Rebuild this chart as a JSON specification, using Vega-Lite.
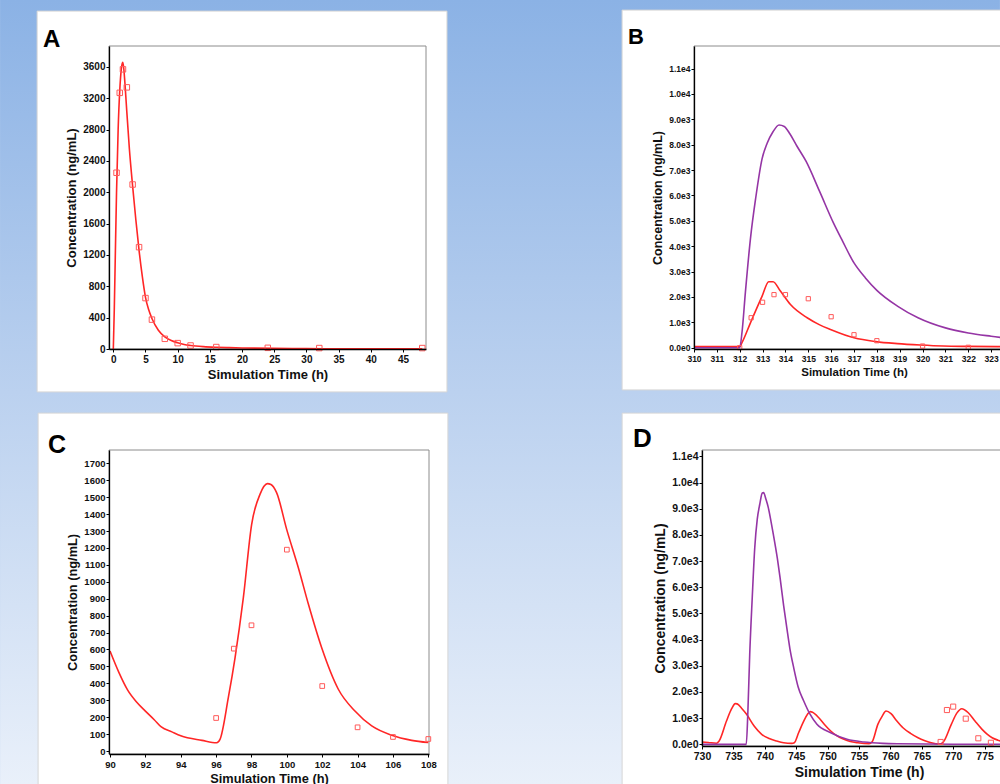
{
  "$schema": "https://vega.github.io/schema/vega-lite/v6.json",
  "padding": 0,
  "background": "#bcd2ef",
  "config": {
    "view": {"stroke": null},
    "font": "Liberation Sans",
    "axis": {"domainColor": "#000000", "domainWidth": 1.3, "tickColor": "#000000", "tickSize": 3, "tickWidth": 1, "labelFont": "Liberation Sans", "labelFontWeight": "bold", "labelColor": "#111111", "titleFont": "Liberation Sans", "titleFontWeight": "bold", "titleColor": "#111111", "grid": false, "labelFlush": false, "labelOverlap": false, "titlePadding": 4},
    "axisX": {"labelPadding": 2},
    "axisY": {"labelPadding": 1},
    "line": {"interpolate": "monotone"},
    "title": {"anchor": "start", "frame": "group", "offset": 0, "baseline": "alphabetic", "fontWeight": "bold", "color": "#000000", "font": "Liberation Sans"}
  },
  "datasets": {
    "a": [
      {"t":0,"c":0,"kind":"red"},{"t":0.15,"c":500,"kind":"red"},{"t":0.3,"c":1150,"kind":"red"},{"t":0.5,"c":2000,"kind":"red"},{"t":0.75,"c":2800,"kind":"red"},{"t":1.0,"c":3300,"kind":"red"},{"t":1.25,"c":3580,"kind":"red"},{"t":1.45,"c":3660,"kind":"red"},{"t":1.6,"c":3600,"kind":"red"},{"t":1.8,"c":3400,"kind":"red"},{"t":2.0,"c":3150,"kind":"red"},{"t":2.5,"c":2550,"kind":"red"},{"t":3.0,"c":2080,"kind":"red"},{"t":3.5,"c":1650,"kind":"red"},{"t":4.0,"c":1260,"kind":"red"},{"t":4.5,"c":930,"kind":"red"},{"t":5.0,"c":660,"kind":"red"},{"t":5.5,"c":500,"kind":"red"},{"t":6.0,"c":390,"kind":"red"},{"t":7.0,"c":240,"kind":"red"},{"t":8.0,"c":155,"kind":"red"},{"t":9.0,"c":108,"kind":"red"},{"t":10,"c":80,"kind":"red"},{"t":11,"c":58,"kind":"red"},{"t":12,"c":45,"kind":"red"},{"t":14,"c":30,"kind":"red"},{"t":16,"c":22,"kind":"red"},{"t":18,"c":17,"kind":"red"},{"t":20,"c":13,"kind":"red"},{"t":25,"c":8,"kind":"red"},{"t":30,"c":5,"kind":"red"},{"t":35,"c":3,"kind":"red"},{"t":40,"c":2,"kind":"red"},{"t":48,"c":1,"kind":"red"},
      {"t":0.5,"c":2250,"kind":"obs"},{"t":1,"c":3270,"kind":"obs"},{"t":1.5,"c":3570,"kind":"obs"},{"t":2.1,"c":3340,"kind":"obs"},{"t":3,"c":2100,"kind":"obs"},{"t":4,"c":1300,"kind":"obs"},{"t":5,"c":650,"kind":"obs"},{"t":6,"c":375,"kind":"obs"},{"t":8,"c":130,"kind":"obs"},{"t":10,"c":75,"kind":"obs"},{"t":12,"c":45,"kind":"obs"},{"t":16,"c":25,"kind":"obs"},{"t":24,"c":15,"kind":"obs"},{"t":32,"c":12,"kind":"obs"},{"t":48,"c":12,"kind":"obs"}
    ],
    "b": [
      {"t":310,"c":40,"kind":"red"},{"t":312.0,"c":40,"kind":"red"},{"t":312.1,"c":200,"kind":"red"},{"t":312.47,"c":980,"kind":"red"},{"t":312.98,"c":2030,"kind":"red"},{"t":313.27,"c":2600,"kind":"red"},{"t":313.46,"c":2600,"kind":"red"},{"t":313.78,"c":2230,"kind":"red"},{"t":314.22,"c":1700,"kind":"red"},{"t":314.95,"c":1180,"kind":"red"},{"t":315.5,"c":900,"kind":"red"},{"t":315.97,"c":720,"kind":"red"},{"t":317.0,"c":390,"kind":"red"},{"t":317.95,"c":240,"kind":"red"},{"t":318.9,"c":160,"kind":"red"},{"t":319.9,"c":105,"kind":"red"},{"t":320.9,"c":65,"kind":"red"},{"t":322,"c":50,"kind":"red"},{"t":323.4,"c":40,"kind":"red"},{"t":324,"c":38,"kind":"red"},
      {"t":310,"c":0,"kind":"purple"},{"t":312.0,"c":0,"kind":"purple"},{"t":312.1,"c":600,"kind":"purple"},{"t":312.25,"c":2200,"kind":"purple"},{"t":312.47,"c":4300,"kind":"purple"},{"t":312.7,"c":5900,"kind":"purple"},{"t":312.98,"c":7450,"kind":"purple"},{"t":313.2,"c":8060,"kind":"purple"},{"t":313.45,"c":8500,"kind":"purple"},{"t":313.72,"c":8780,"kind":"purple"},{"t":313.95,"c":8720,"kind":"purple"},{"t":314.2,"c":8420,"kind":"purple"},{"t":314.5,"c":7950,"kind":"purple"},{"t":314.9,"c":7350,"kind":"purple"},{"t":315.5,"c":6150,"kind":"purple"},{"t":316.1,"c":4920,"kind":"purple"},{"t":316.5,"c":4200,"kind":"purple"},{"t":317.0,"c":3340,"kind":"purple"},{"t":317.5,"c":2750,"kind":"purple"},{"t":318.0,"c":2260,"kind":"purple"},{"t":318.9,"c":1640,"kind":"purple"},{"t":319.8,"c":1180,"kind":"purple"},{"t":321.0,"c":780,"kind":"purple"},{"t":322.0,"c":580,"kind":"purple"},{"t":323.0,"c":450,"kind":"purple"},{"t":324.0,"c":340,"kind":"purple"},
      {"t":312,"c":0,"kind":"obs"},{"t":312.5,"c":1180,"kind":"obs"},{"t":313,"c":1790,"kind":"obs"},{"t":313.5,"c":2090,"kind":"obs"},{"t":314,"c":2090,"kind":"obs"},{"t":315,"c":1930,"kind":"obs"},{"t":316,"c":1220,"kind":"obs"},{"t":317,"c":510,"kind":"obs"},{"t":318,"c":275,"kind":"obs"},{"t":320,"c":65,"kind":"obs"},{"t":322,"c":15,"kind":"obs"}
    ],
    "c": [
      {"t":90,"c":591,"kind":"red"},{"t":90.5,"c":465,"kind":"red"},{"t":91,"c":360,"kind":"red"},{"t":91.5,"c":290,"kind":"red"},{"t":92,"c":236,"kind":"red"},{"t":92.5,"c":185,"kind":"red"},{"t":92.9,"c":142,"kind":"red"},{"t":93.5,"c":113,"kind":"red"},{"t":94,"c":90,"kind":"red"},{"t":95.2,"c":63,"kind":"red"},{"t":96.03,"c":49,"kind":"red"},{"t":96.22,"c":69,"kind":"red"},{"t":96.69,"c":315,"kind":"red"},{"t":97.07,"c":551,"kind":"red"},{"t":97.54,"c":906,"kind":"red"},{"t":98.01,"c":1340,"kind":"red"},{"t":98.48,"c":1517,"kind":"red"},{"t":98.9,"c":1580,"kind":"red"},{"t":99.1,"c":1575,"kind":"red"},{"t":99.42,"c":1527,"kind":"red"},{"t":99.99,"c":1310,"kind":"red"},{"t":100.65,"c":1083,"kind":"red"},{"t":101.22,"c":867,"kind":"red"},{"t":101.97,"c":610,"kind":"red"},{"t":102.91,"c":365,"kind":"red"},{"t":103.85,"c":236,"kind":"red"},{"t":104.8,"c":148,"kind":"red"},{"t":105.93,"c":93,"kind":"red"},{"t":107.06,"c":63,"kind":"red"},{"t":108,"c":50,"kind":"red"},
      {"t":96,"c":195,"kind":"obs"},{"t":97,"c":605,"kind":"obs"},{"t":98,"c":743,"kind":"obs"},{"t":100,"c":1190,"kind":"obs"},{"t":102,"c":384,"kind":"obs"},{"t":104,"c":140,"kind":"obs"},{"t":106,"c":83,"kind":"obs"},{"t":108,"c":71,"kind":"obs"}
    ],
    "d": [
      {"t":730,"c":90,"kind":"red"},{"t":731,"c":70,"kind":"red"},{"t":732.3,"c":40,"kind":"red"},{"t":732.7,"c":120,"kind":"red"},{"t":733.9,"c":890,"kind":"red"},{"t":734.7,"c":1350,"kind":"red"},{"t":735.3,"c":1555,"kind":"red"},{"t":735.6,"c":1545,"kind":"red"},{"t":736.3,"c":1380,"kind":"red"},{"t":737.1,"c":1146,"kind":"red"},{"t":738.3,"c":700,"kind":"red"},{"t":739.5,"c":382,"kind":"red"},{"t":740.7,"c":220,"kind":"red"},{"t":741.9,"c":126,"kind":"red"},{"t":743,"c":60,"kind":"red"},{"t":744.3,"c":35,"kind":"red"},{"t":744.7,"c":60,"kind":"red"},{"t":745.4,"c":450,"kind":"red"},{"t":746.2,"c":890,"kind":"red"},{"t":746.8,"c":1150,"kind":"red"},{"t":747.25,"c":1250,"kind":"red"},{"t":747.6,"c":1225,"kind":"red"},{"t":748.6,"c":1016,"kind":"red"},{"t":749.5,"c":760,"kind":"red"},{"t":750.5,"c":508,"kind":"red"},{"t":751.5,"c":320,"kind":"red"},{"t":752.6,"c":191,"kind":"red"},{"t":753.6,"c":110,"kind":"red"},{"t":754.8,"c":61,"kind":"red"},{"t":756.6,"c":25,"kind":"red"},{"t":757.1,"c":100,"kind":"red"},{"t":758.0,"c":764,"kind":"red"},{"t":758.7,"c":1080,"kind":"red"},{"t":759.3,"c":1272,"kind":"red"},{"t":760.1,"c":1170,"kind":"red"},{"t":761.0,"c":900,"kind":"red"},{"t":762.0,"c":634,"kind":"red"},{"t":763.2,"c":420,"kind":"red"},{"t":764.4,"c":252,"kind":"red"},{"t":765.5,"c":140,"kind":"red"},{"t":766.5,"c":61,"kind":"red"},{"t":767.9,"c":15,"kind":"red"},{"t":768.4,"c":80,"kind":"red"},{"t":769.7,"c":764,"kind":"red"},{"t":770.6,"c":1200,"kind":"red"},{"t":771.35,"c":1360,"kind":"red"},{"t":772.4,"c":1207,"kind":"red"},{"t":773.5,"c":880,"kind":"red"},{"t":774.6,"c":573,"kind":"red"},{"t":775.4,"c":390,"kind":"red"},{"t":776.2,"c":252,"kind":"red"},{"t":777.1,"c":160,"kind":"red"},{"t":778.05,"c":99,"kind":"red"},{"t":779,"c":60,"kind":"red"},{"t":780,"c":40,"kind":"red"},
      {"t":730,"c":0,"kind":"purple"},{"t":737.05,"c":0,"kind":"purple"},{"t":737.3,"c":1200,"kind":"purple"},{"t":737.6,"c":3440,"kind":"purple"},{"t":738.0,"c":5600,"kind":"purple"},{"t":738.4,"c":7510,"kind":"purple"},{"t":738.8,"c":8600,"kind":"purple"},{"t":739.2,"c":9170,"kind":"purple"},{"t":739.6,"c":9600,"kind":"purple"},{"t":739.8,"c":9614,"kind":"purple"},{"t":740.2,"c":9350,"kind":"purple"},{"t":740.56,"c":9040,"kind":"purple"},{"t":741.0,"c":8500,"kind":"purple"},{"t":741.36,"c":8020,"kind":"purple"},{"t":742.0,"c":7100,"kind":"purple"},{"t":742.43,"c":6366,"kind":"purple"},{"t":743.0,"c":5300,"kind":"purple"},{"t":743.5,"c":4455,"kind":"purple"},{"t":744.0,"c":3650,"kind":"purple"},{"t":744.6,"c":2927,"kind":"purple"},{"t":745.3,"c":2200,"kind":"purple"},{"t":746.2,"c":1655,"kind":"purple"},{"t":747.2,"c":1150,"kind":"purple"},{"t":748.3,"c":764,"kind":"purple"},{"t":750.5,"c":443,"kind":"purple"},{"t":753.1,"c":191,"kind":"purple"},{"t":755.8,"c":88,"kind":"purple"},{"t":758.8,"c":38,"kind":"purple"},{"t":761.2,"c":23,"kind":"purple"},{"t":770,"c":5,"kind":"purple"},{"t":780,"c":0,"kind":"purple"},
      {"t":768,"c":90,"kind":"obs"},{"t":769,"c":1310,"kind":"obs"},{"t":770,"c":1440,"kind":"obs"},{"t":772,"c":980,"kind":"obs"},{"t":774,"c":230,"kind":"obs"},{"t":776,"c":60,"kind":"obs"},{"t":778,"c":25,"kind":"obs"}
    ]
  },
  "columns": 2,
  "align": "none",
  "bounds": "full",
  "spacing": {"row": -372, "column": -379},
  "concat": [
    {
      "width": 317, "height": 303,
      "title": {"text": "A", "fontSize": 24, "dx": -66, "dy": 56},
      "data": {"name": "a"},
      "layer": [
        {
          "data": {"values": [{"part": "page"}]},
          "mark": {"type": "rect", "clip": false, "fill": {"gradient": "linear", "x1": 0, "y1": 0, "x2": 0, "y2": 1, "stops": [{"offset": 0, "color": "#8bb2e5"}, {"offset": 0.5, "color": "#bbd1ef"}, {"offset": 1, "color": "#e9f0fa"}]}},
          "encoding": {"x": {"datum": -17.589, "type": "quantitative"}, "x2": {"datum": 137.743}, "y": {"datum": 4453.9, "type": "quantitative"}, "y2": {"datum": -5551.8}}
        },
        {
          "data": {"values": [{"part": "panel"}]},
          "mark": {"type": "rect", "clip": false, "fill": "#ffffff", "stroke": "#d6d6d6", "strokeWidth": 1},
          "encoding": {"x": {"datum": -11.84, "type": "quantitative"}, "x2": {"datum": 51.84}, "y": {"datum": 4313.5, "type": "quantitative"}, "y2": {"datum": -548}}
        },
        {
          "data": {"values": [{"part": "frame"}]},
          "mark": {"type": "rect", "clip": false, "fill": "#ffffff", "fillOpacity": 0, "stroke": "#8c8c8c", "strokeWidth": 1},
          "encoding": {"x": {"datum": -0.67, "type": "quantitative"}, "x2": {"datum": 48.58}, "y": {"datum": 3868, "type": "quantitative"}, "y2": {"datum": 0}}
        },
        {
          "transform": [{"filter": "datum.kind !== 'obs'"}],
          "mark": {"type": "line", "strokeWidth": 1.6},
          "encoding": {
            "x": {"field": "t", "type": "quantitative", "title": "Simulation Time (h)", "scale": {"domain": [-0.67, 48.58], "nice": false, "zero": false}, "axis": {"zindex": 1, "tickCount": 60, "values": [0,5,10,15,20,25,30,35,40,45], "format": "d", "labelFontSize": 10, "titleFontSize": 13}},
            "y": {"field": "c", "type": "quantitative", "title": "Concentration (ng/mL)", "scale": {"domain": [0, 3868], "nice": false, "zero": false}, "axis": {"zindex": 1, "tickCount": 60, "values": [0,400,800,1200,1600,2000,2400,2800,3200,3600], "format": "d", "labelFontSize": 10, "titleFontSize": 13}},
            "color": {"field": "kind", "type": "nominal", "scale": {"domain": ["red", "purple"], "range": ["#ff2626", "#9535a5"]}, "legend": null}
          }
        },
        {
          "transform": [{"filter": "datum.kind === 'obs'"}],
          "mark": {"type": "point", "shape": "square", "filled": false, "size": 30, "stroke": "#ff5a5a", "strokeWidth": 1, "opacity": 1},
          "encoding": {
            "x": {"field": "t", "type": "quantitative", "title": "Simulation Time (h)"},
            "y": {"field": "c", "type": "quantitative", "title": "Concentration (ng/mL)"}
          }
        }
      ]
    },
    {
      "width": 320, "height": 303,
      "title": {"text": "B", "fontSize": 22, "dx": -66, "dy": 43},
      "data": {"name": "b"},
      "layer": [
        {
          "data": {"values": [{"part": "panel"}]},
          "mark": {"type": "rect", "clip": false, "fill": "#ffffff", "stroke": "#d6d6d6", "strokeWidth": 1},
          "encoding": {"x": {"datum": 306.854, "type": "quantitative"}, "x2": {"datum": 330}, "y": {"datum": 13306, "type": "quantitative"}, "y2": {"datum": -1664}}
        },
        {
          "data": {"values": [{"part": "frame"}]},
          "mark": {"type": "rect", "clip": false, "fill": "#ffffff", "fillOpacity": 0, "stroke": "#8c8c8c", "strokeWidth": 1},
          "encoding": {"x": {"datum": 310, "type": "quantitative"}, "x2": {"datum": 324}, "y": {"datum": 11891, "type": "quantitative"}, "y2": {"datum": -52}}
        },
        {
          "transform": [{"filter": "datum.kind !== 'obs'"}],
          "mark": {"type": "line", "strokeWidth": 1.6},
          "encoding": {
            "x": {"field": "t", "type": "quantitative", "title": "Simulation Time (h)", "scale": {"domain": [310, 324], "nice": false, "zero": false}, "axis": {"zindex": 1, "tickCount": 60, "values": [310,311,312,313,314,315,316,317,318,319,320,321,322,323], "format": "d", "labelFontSize": 8.5, "titleFontSize": 11.5}},
            "y": {"field": "c", "type": "quantitative", "title": "Concentration (ng/mL)", "scale": {"domain": [-52, 11891], "nice": false, "zero": false}, "axis": {"zindex": 1, "tickCount": 60, "values": [0,1000,2000,3000,4000,5000,6000,7000,8000,9000,10000,11000], "labelExpr": "replace(format(datum.value, '.1e'), '+', '')", "labelFontSize": 8.5, "titleFontSize": 12.5}},
            "color": {"field": "kind", "type": "nominal", "scale": {"domain": ["red", "purple"], "range": ["#ff2626", "#9535a5"]}, "legend": null}
          }
        },
        {
          "transform": [{"filter": "datum.kind === 'obs'"}],
          "mark": {"type": "point", "shape": "square", "filled": false, "size": 18, "stroke": "#ff5a5a", "strokeWidth": 1, "opacity": 1},
          "encoding": {
            "x": {"field": "t", "type": "quantitative", "title": "Simulation Time (h)"},
            "y": {"field": "c", "type": "quantitative", "title": "Concentration (ng/mL)"}
          }
        }
      ]
    },
    {
      "width": 320, "height": 304,
      "title": {"text": "C", "fontSize": 25, "dx": -61, "dy": 49},
      "data": {"name": "c"},
      "layer": [
        {
          "data": {"values": [{"part": "panel"}]},
          "mark": {"type": "rect", "clip": false, "fill": "#ffffff", "stroke": "#d6d6d6", "strokeWidth": 1},
          "encoding": {"x": {"datum": 85.934, "type": "quantitative"}, "x2": {"datum": 109.107}, "y": {"datum": 1997.1, "type": "quantitative"}, "y2": {"datum": -254}}
        },
        {
          "data": {"values": [{"part": "frame"}]},
          "mark": {"type": "rect", "clip": false, "fill": "#ffffff", "fillOpacity": 0, "stroke": "#8c8c8c", "strokeWidth": 1},
          "encoding": {"x": {"datum": 89.943, "type": "quantitative"}, "x2": {"datum": 108.038}, "y": {"datum": 1779, "type": "quantitative"}, "y2": {"datum": -17.7}}
        },
        {
          "transform": [{"filter": "datum.kind !== 'obs'"}],
          "mark": {"type": "line", "strokeWidth": 1.6},
          "encoding": {
            "x": {"field": "t", "type": "quantitative", "title": "Simulation Time (h)", "scale": {"domain": [89.943, 108.038], "nice": false, "zero": false}, "axis": {"zindex": 1, "tickCount": 60, "values": [90,92,94,96,98,100,102,104,106,108], "format": "d", "labelFontSize": 9.5, "titleFontSize": 12.8}},
            "y": {"field": "c", "type": "quantitative", "title": "Concentration (ng/mL)", "scale": {"domain": [-17.7, 1779], "nice": false, "zero": false}, "axis": {"zindex": 1, "tickCount": 60, "values": [0,100,200,300,400,500,600,700,800,900,1000,1100,1200,1300,1400,1500,1600,1700], "format": "d", "labelFontSize": 9.5, "titleFontSize": 12.8}},
            "color": {"field": "kind", "type": "nominal", "scale": {"domain": ["red", "purple"], "range": ["#ff2626", "#9535a5"]}, "legend": null}
          }
        },
        {
          "transform": [{"filter": "datum.kind === 'obs'"}],
          "mark": {"type": "point", "shape": "square", "filled": false, "size": 22, "stroke": "#ff5a5a", "strokeWidth": 1, "opacity": 1},
          "encoding": {
            "x": {"field": "t", "type": "quantitative", "title": "Simulation Time (h)"},
            "y": {"field": "c", "type": "quantitative", "title": "Concentration (ng/mL)"}
          }
        }
      ]
    },
    {
      "width": 314, "height": 296,
      "title": {"text": "D", "fontSize": 26, "dx": -69, "dy": 43},
      "data": {"name": "d"},
      "layer": [
        {
          "data": {"values": [{"part": "panel"}]},
          "mark": {"type": "rect", "clip": false, "fill": "#ffffff", "stroke": "#d6d6d6", "strokeWidth": 1},
          "encoding": {"x": {"datum": 717.28, "type": "quantitative"}, "x2": {"datum": 790}, "y": {"datum": 12652, "type": "quantitative"}, "y2": {"datum": -1974}}
        },
        {
          "data": {"values": [{"part": "frame"}]},
          "mark": {"type": "rect", "clip": false, "fill": "#ffffff", "fillOpacity": 0, "stroke": "#8c8c8c", "strokeWidth": 1},
          "encoding": {"x": {"datum": 730, "type": "quantitative"}, "x2": {"datum": 780}, "y": {"datum": 11243, "type": "quantitative"}, "y2": {"datum": -64}}
        },
        {
          "transform": [{"filter": "datum.kind !== 'obs'"}],
          "mark": {"type": "line", "strokeWidth": 1.6},
          "encoding": {
            "x": {"field": "t", "type": "quantitative", "title": "Simulation Time (h)", "scale": {"domain": [730, 780], "nice": false, "zero": false}, "axis": {"zindex": 1, "tickCount": 60, "values": [730,735,740,745,750,755,760,765,770,775], "format": "d", "labelFontSize": 10.5, "titleFontSize": 14}},
            "y": {"field": "c", "type": "quantitative", "title": "Concentration (ng/mL)", "scale": {"domain": [-64, 11243], "nice": false, "zero": false}, "axis": {"zindex": 1, "tickCount": 60, "values": [0,1000,2000,3000,4000,5000,6000,7000,8000,9000,10000,11000], "labelExpr": "replace(format(datum.value, '.1e'), '+', '')", "labelFontSize": 10.5, "titleFontSize": 14}},
            "color": {"field": "kind", "type": "nominal", "scale": {"domain": ["red", "purple"], "range": ["#ff2626", "#9535a5"]}, "legend": null}
          }
        },
        {
          "transform": [{"filter": "datum.kind === 'obs'"}],
          "mark": {"type": "point", "shape": "square", "filled": false, "size": 26, "stroke": "#ff5a5a", "strokeWidth": 1, "opacity": 1},
          "encoding": {
            "x": {"field": "t", "type": "quantitative", "title": "Simulation Time (h)"},
            "y": {"field": "c", "type": "quantitative", "title": "Concentration (ng/mL)"}
          }
        }
      ]
    }
  ]
}
